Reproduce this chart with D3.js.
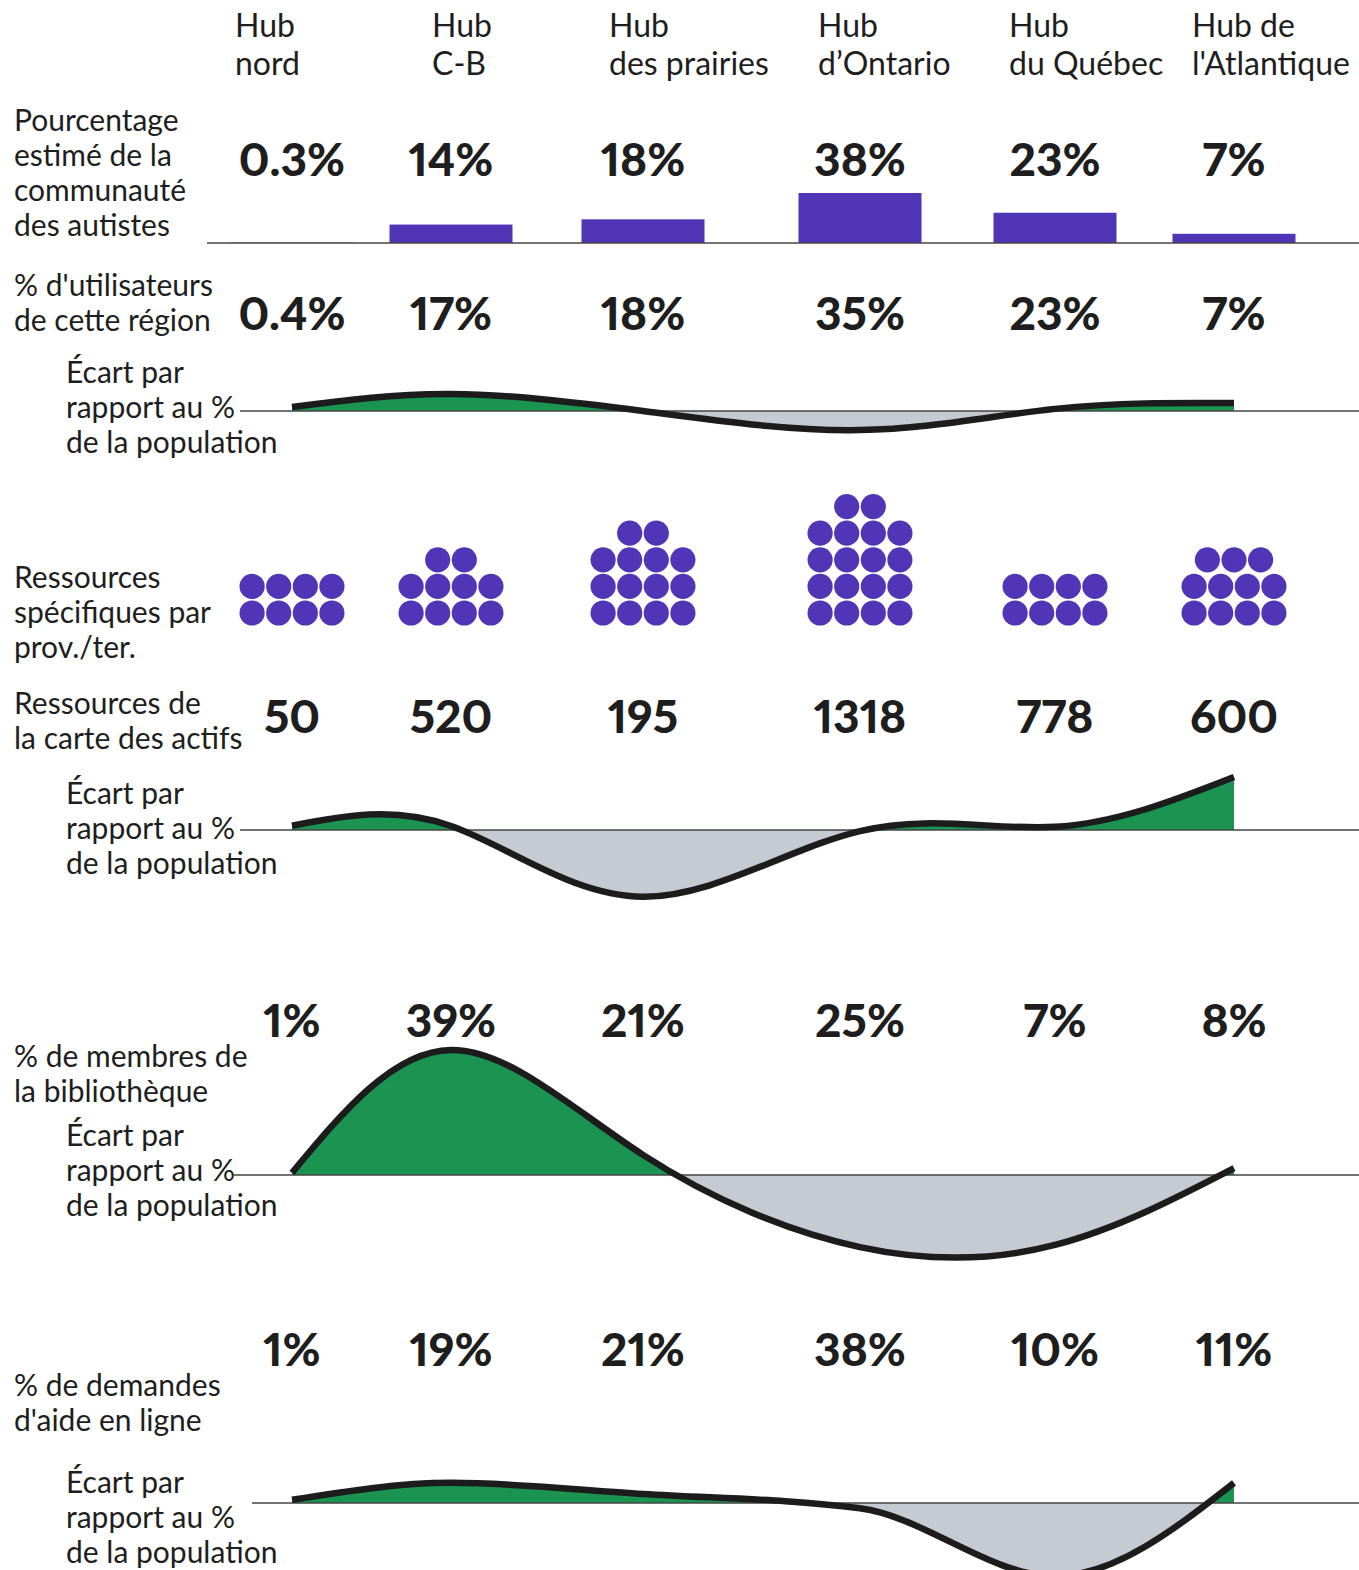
<!DOCTYPE html>
<html lang="fr">
<head>
<meta charset="utf-8">
<script src="https://cdn.jsdelivr.net/npm/d3@7"></script>
<style>
  html, body { margin: 0; padding: 0; background: #fff; }
  svg { display: block; }
  text { font-family: Lato, "Noto Sans", sans-serif; fill: #1e1e1e; }
  .lbl { font-size: 30px; }
  .hdr { font-size: 32px; }
  .val { font-size: 46px; font-weight: 900; font-variant-numeric: proportional-nums; font-feature-settings: "pnum"; }
</style>
</head>
<body>
<svg id="chart" width="1359" height="1570"></svg>
<script>
// ---- Data ---------------------------------------------------------------
const hubs = ["Hub nord", "Hub C-B", "Hub des prairies", "Hub d’Ontario", "Hub du Québec", "Hub de l'Atlantique"];
const hubLines = [["Hub", "nord"], ["Hub", "C-B"], ["Hub", "des prairies"], ["Hub", "d’Ontario"], ["Hub", "du Québec"], ["Hub de", "l'Atlantique"]];

const autismShare = [0.3, 14, 18, 38, 23, 7];          // % estimé de la communauté des autistes
const userShare = [0.4, 17, 18, 35, 23, 7];            // % d'utilisateurs de cette région
const specificResources = [8, 10, 14, 18, 8, 11];      // ressources spécifiques par prov./ter.
const assetMapResources = [50, 520, 195, 1318, 778, 600];
const libraryMemberShare = [1, 39, 21, 25, 7, 8];
const helpRequestShare = [1, 19, 21, 38, 10, 11];

// Écart par rapport au % de la population (points de pourcentage)
const gapUsers = [0.75, 3.2, 0, -3.6, 0.4, 1.5];
const gapAssetMap = [0.8, 0.75, -12.6, -0.2, 0.6, 10];
const gapLibrary = [0.4, 23.6, 3.8, -13.6, -13.2, 1.3];
const gapHelp = [0.6, 3.8, 1.7, -1, -13.8, 3.8];

// ---- Layout -------------------------------------------------------------
const W = 1359, H = 1570;
const colCenters = [292, 451, 643, 860, 1055, 1234];
const hubLabelLeft = [235, 432, 609, 818, 1009, 1192];
const PURPLE = "#5036b6", GREEN = "#1a9450", GREY = "#c5cad3", INK = "#1c1c1c";

const svg = d3.select("#chart");
const x = d3.scaleOrdinal().domain(hubs).range(colCenters);
const xLeft = d3.scaleOrdinal().domain(hubs).range(hubLabelLeft);

function multiline(g, xPos, yBase, lines, lh, cls) {
  const t = g.append("text").attr("class", cls || "lbl").attr("x", xPos).attr("y", yBase);
  lines.forEach((s, i) => t.append("tspan").attr("x", xPos).attr("y", yBase + i * lh).text(s));
  return t;
}

const fmtPct = d => `${d}%`;

// Column headers
hubs.forEach((h, i) => multiline(svg, xLeft(h), 37, hubLines[i], 38, "hdr"));

// Row of values
function valueRow(values, yBase, fmt) {
  svg.append("g").selectAll("text").data(values).join("text")
    .attr("class", "val")
    .attr("text-anchor", "middle")
    .attr("x", (d, i) => x(hubs[i]))
    .attr("y", yBase)
    .text(fmt);
}

// ---- Row 1 : autistic community share, bars -----------------------------
multiline(svg, 14, 131, ["Pourcentage", "estimé de la", "communauté", "des autistes"], 35);
valueRow(autismShare, 176, fmtPct);
const barBase = 243;
const yBar = d3.scaleLinear().domain([0, 38]).range([barBase, barBase - 50]);
const barW = 123;
svg.append("g").selectAll("rect").data(autismShare).join("rect")
  .attr("x", (d, i) => x(hubs[i]) - barW / 2)
  .attr("y", d => yBar(d))
  .attr("width", barW)
  .attr("height", d => barBase - yBar(d))
  .attr("fill", PURPLE);
svg.append("line").attr("x1", 207).attr("x2", W).attr("y1", barBase).attr("y2", barBase)
  .attr("stroke", "#444").attr("stroke-width", 1.5);

// ---- Gap curve helper ---------------------------------------------------
let clipId = 0;
function gapChart(values, baseY, lineStart, labelBase, curve) {
  multiline(svg, 66, labelBase, ["Écart par", "rapport au %", "de la population"], 35);
  const y = d3.scaleLinear().domain([-10, 10]).range([baseY + 53, baseY - 53]);
  const g = svg.append("g");
  const idUp = `clip-up-${clipId}`, idDown = `clip-down-${clipId++}`;
  const defs = g.append("defs");
  defs.append("clipPath").attr("id", idUp).append("rect")
    .attr("x", 0).attr("y", 0).attr("width", W).attr("height", baseY);
  defs.append("clipPath").attr("id", idDown).append("rect")
    .attr("x", 0).attr("y", baseY).attr("width", W).attr("height", H - baseY);

  const area = d3.area()
    .x((d, i) => x(hubs[i]))
    .y0(baseY)
    .y1(d => y(d))
    .curve(curve);
  const line = d3.line()
    .x((d, i) => x(hubs[i]))
    .y(d => y(d))
    .curve(curve);

  g.append("path").datum(values).attr("d", area).attr("fill", GREEN).attr("clip-path", `url(#${idUp})`);
  g.append("path").datum(values).attr("d", area).attr("fill", GREY).attr("clip-path", `url(#${idDown})`);
  g.append("line").attr("x1", lineStart).attr("x2", W).attr("y1", baseY).attr("y2", baseY)
    .attr("stroke", "#444").attr("stroke-width", 1.5);
  g.append("path").datum(values).attr("d", line)
    .attr("fill", "none").attr("stroke", INK).attr("stroke-width", 6.5);
}

// ---- Row 2 : users --------------------------------------------------------
multiline(svg, 14, 296, ["% d'utilisateurs", "de cette région"], 35);
valueRow(userShare, 330, fmtPct);
gapChart(gapUsers, 411, 240, 383, d3.curveNatural);

// ---- Row 3 : specific resources, dot stacks -------------------------------
multiline(svg, 14, 588, ["Ressources", "spécifiques par", "prov./ter."], 35);
const perRow = 4, dotStep = 26.6, dotR = 12.6;
const dotData = [];
specificResources.forEach((n, i) => {
  for (let k = 0; k < n; k++) {
    const row = Math.floor(k / perRow);
    const inRow = Math.min(perRow, n - row * perRow);
    dotData.push({ hub: hubs[i], row, pos: k % perRow, inRow });
  }
});
const yDotRow = d3.scaleLinear().domain([0, 4]).range([613, 613 - 4 * dotStep]);
svg.append("g").selectAll("circle").data(dotData).join("circle")
  .attr("cx", d => x(d.hub) + (d.pos - (d.inRow - 1) / 2) * dotStep)
  .attr("cy", d => yDotRow(d.row))
  .attr("r", dotR)
  .attr("fill", PURPLE);

// ---- Row 4 : asset map resources ----------------------------------------
multiline(svg, 14, 714, ["Ressources de", "la carte des actifs"], 35);
valueRow(assetMapResources, 733, d => d);
gapChart(gapAssetMap, 830, 240, 804, d3.curveNatural);

// ---- Row 5 : library members --------------------------------------------
valueRow(libraryMemberShare, 1037, fmtPct);
multiline(svg, 14, 1067, ["% de membres de", "la bibliothèque"], 35);
gapChart(gapLibrary, 1175, 233, 1146, d3.curveNatural);

// ---- Row 6 : online help requests ---------------------------------------
valueRow(helpRequestShare, 1366, fmtPct);
multiline(svg, 14, 1396, ["% de demandes", "d'aide en ligne"], 35);
gapChart(gapHelp, 1503, 252, 1493, d3.curveMonotoneX);
</script>
</body>
</html>
